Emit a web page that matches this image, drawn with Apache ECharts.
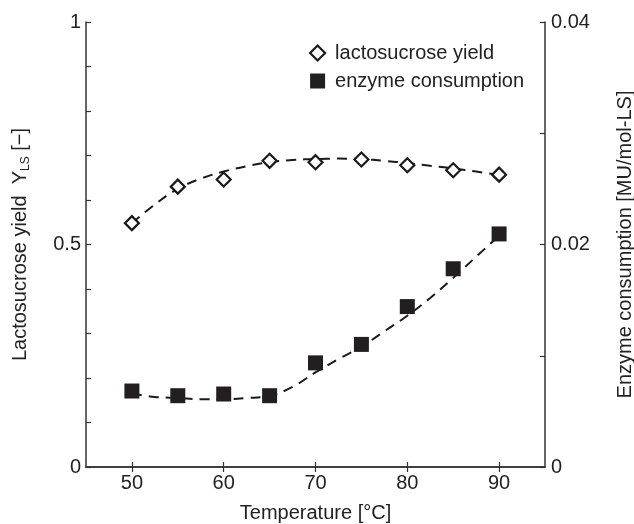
<!DOCTYPE html>
<html>
<head>
<meta charset="utf-8">
<script src="https://cdn.jsdelivr.net/npm/echarts@6/dist/echarts.min.js"></script>
<style>html,body{margin:0;padding:0;background:#fff;}#c{width:634px;height:524px;}</style>
</head>
<body>
<div id="c"></div>
<script>
// Measured points
const temperatures = [50, 55, 60, 65, 70, 75, 80, 85, 90];
const yieldValues = [0.548, 0.630, 0.646, 0.688, 0.685, 0.691, 0.678, 0.667, 0.657];
const enzymeValues = [0.00683, 0.00641, 0.00656, 0.00641, 0.00936, 0.01102, 0.01442, 0.01782, 0.02095];
// Fitted (dashed) curves
const fitTemperatures = [50, 52.5, 55, 57.5, 60, 62.5, 65, 67.5, 70, 72.5, 75, 77.5, 80, 82.5, 85, 87.5, 90];
const yieldFit = [0.548, 0.590, 0.625, 0.648, 0.664, 0.676, 0.685, 0.690, 0.692, 0.693, 0.692, 0.688, 0.683, 0.677, 0.671, 0.664, 0.656];
const enzymeFit = [0.0066, 0.0063, 0.0062, 0.0061, 0.0061, 0.0062, 0.0064, 0.0072, 0.0085, 0.0097, 0.0108, 0.0122, 0.0136, 0.0152, 0.0170, 0.0189, 0.0208];
// Tick labels
const xTicks = [50, 60, 70, 80, 90];
const leftTicks = [0, 0.5, 1];
const rightTicks = [0, 0.02, 0.04];

const zip = (xs, ys) => xs.map((x, i) => [x, ys[i]]);
const FONT = "'Liberation Sans', Arial, sans-serif";
const FS = 20;
const TXT = '#222';
const AX = '#333';

const chart = echarts.init(document.getElementById('c'), null, {renderer: 'canvas'});
chart.setOption({
  animation: false,
  backgroundColor: '#fff',
  textStyle: {fontFamily: FONT, color: TXT},
  grid: {left: 86, right: 89, top: 22, bottom: 57, containLabel: false, outerBoundsMode: 'none'},
  legend: {
    orient: 'vertical',
    left: 309,
    top: 43,
    padding: 0,
    itemWidth: 15,
    itemHeight: 15,
    itemGap: 8,
    textStyle: {fontFamily: FONT, fontSize: FS, color: TXT, padding: [0, 0, 0, 5]},
    data: [
      {name: 'lactosucrose yield', icon: 'diamond', itemStyle: {color: '#fff', borderColor: '#1a1a1a', borderWidth: 2.2}},
      {name: 'enzyme consumption', icon: 'rect', itemStyle: {color: '#231f20', borderWidth: 0}}
    ]
  },
  xAxis: [{
    type: 'value', min: 45, max: 95, position: 'bottom',
    name: 'Temperature [°C]', nameLocation: 'middle', nameGap: 36,
    nameTextStyle: {fontFamily: FONT, fontSize: FS, color: TXT},
    axisLine: {show: true, lineStyle: {color: AX, width: 1.5}},
    axisTick: {show: true, inside: true, length: 5, customValues: xTicks, lineStyle: {color: AX, width: 1.2}},
    axisLabel: {customValues: xTicks, fontFamily: FONT, fontSize: FS, color: TXT, margin: 6},
    splitLine: {show: false}
  }, {
    type: 'value', min: 45, max: 95, position: 'top',
    axisLine: {show: true, lineStyle: {color: AX, width: 1.5}},
    axisTick: {show: true, inside: true, length: 5, customValues: xTicks, lineStyle: {color: AX, width: 1.2}},
    axisLabel: {show: false},
    splitLine: {show: false}
  }],
  yAxis: [{
    type: 'value', min: 0, max: 1, interval: 0.5, position: 'left',
    name: 'Lactosucrose yield  Y{sub|LS} [−]', nameLocation: 'middle', nameGap: 54, nameRotate: 90,
    nameTextStyle: {fontFamily: FONT, fontSize: FS, color: TXT, lineHeight: 24,
      rich: {sub: {fontFamily: FONT, fontSize: 12, color: TXT, verticalAlign: 'bottom', lineHeight: 15}}},
    axisLine: {show: true, lineStyle: {color: AX, width: 1.5}},
    axisTick: {show: true, inside: true, length: 5, lineStyle: {color: AX, width: 1.2}},
    minorTick: {show: true, splitNumber: 5, length: 5, lineStyle: {color: AX, width: 1.2}},
    axisLabel: {customValues: leftTicks, fontFamily: FONT, fontSize: FS, color: TXT, margin: 5,
      formatter: v => String(v)},
    splitLine: {show: false}
  }, {
    type: 'value', min: 0, max: 0.04, interval: 0.02, position: 'right',
    name: 'Enzyme consumption [MU/mol-LS]', nameLocation: 'middle', nameGap: 70, nameRotate: 90,
    nameTextStyle: {fontFamily: FONT, fontSize: FS, color: TXT},
    axisLine: {show: true, lineStyle: {color: AX, width: 1.5}},
    axisTick: {show: true, inside: true, length: 5, lineStyle: {color: AX, width: 1.2}},
    minorTick: {show: true, splitNumber: 2, length: 5, lineStyle: {color: AX, width: 1.2}},
    axisLabel: {customValues: rightTicks, fontFamily: FONT, fontSize: FS, color: TXT, margin: 6,
      formatter: v => (v === 0 ? '0' : v.toFixed(2))},
    splitLine: {show: false}
  }],
  series: [{
    name: 'yield fit', type: 'line', xAxisIndex: 0, yAxisIndex: 0,
    data: zip(fitTemperatures, yieldFit), smooth: 0.4, showSymbol: false, symbol: 'none',
    lineStyle: {color: '#1a1a1a', width: 2, type: [10, 7]}, z: 2, silent: true
  }, {
    name: 'enzyme fit', type: 'line', xAxisIndex: 0, yAxisIndex: 1,
    data: zip(fitTemperatures, enzymeFit), smooth: 0.4, showSymbol: false, symbol: 'none',
    lineStyle: {color: '#1a1a1a', width: 2, type: [10, 7]}, z: 2, silent: true
  }, {
    name: 'lactosucrose yield', type: 'scatter', xAxisIndex: 0, yAxisIndex: 0,
    data: zip(temperatures, yieldValues), symbol: 'diamond', symbolSize: 14,
    itemStyle: {color: '#fff', borderColor: '#1a1a1a', borderWidth: 2.2, opacity: 1}, z: 5
  }, {
    name: 'enzyme consumption', type: 'scatter', xAxisIndex: 0, yAxisIndex: 1,
    data: zip(temperatures, enzymeValues), symbol: 'rect', symbolSize: 15,
    itemStyle: {color: '#231f20', opacity: 1}, z: 5
  }]
});
</script>
</body>
</html>
